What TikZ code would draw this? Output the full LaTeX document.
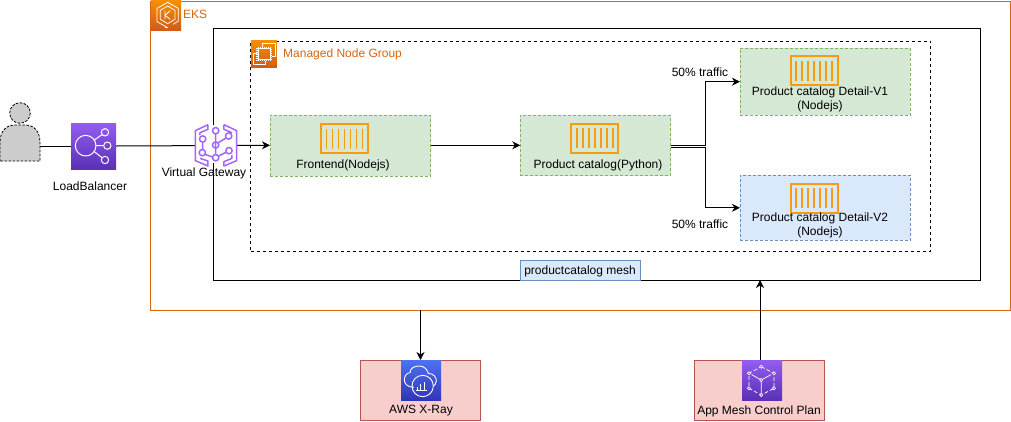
\documentclass[tikz,border=0pt]{standalone}
\usepackage{fontspec}
\setmainfont{Liberation Sans}
\usetikzlibrary{arrows.meta,calc}
\definecolor{awsorange}{HTML}{D86613}
\definecolor{contorange}{HTML}{F89B10}
\definecolor{vgpurple}{HTML}{A166FF}
\definecolor{gstroke}{HTML}{82B366}\definecolor{gfill}{HTML}{D5E8D4}
\definecolor{bstroke}{HTML}{6C8EBF}\definecolor{bfill}{HTML}{DAE8FC}
\definecolor{rstroke}{HTML}{B85450}\definecolor{rfill}{HTML}{F8CECC}
\definecolor{orange1}{HTML}{F78E04}\definecolor{orange2}{HTML}{D05C17}
\definecolor{purple1}{HTML}{945DF2}\definecolor{purple2}{HTML}{5A30B5}
\definecolor{blue1}{HTML}{4D72F3}\definecolor{blue2}{HTML}{3334B9}
\tikzset{
  x=1pt,y=-1pt,
  txt/.style={inner sep=0pt,align=center,font=\fontsize{12}{14.2}\selectfont,text=black},
  otxt/.style={inner sep=0pt,anchor=west,font=\fontsize{12}{14.2}\selectfont,text=awsorange},
  boxbase/.style={rectangle,inner sep=0pt,outer sep=0pt,line width=.75pt},
  greenbox/.style={boxbase,draw=gstroke,fill=gfill,dash pattern=on 3pt off 2pt},
  bluebox/.style={boxbase,draw=bstroke,fill=bfill,dash pattern=on 3pt off 2pt},
  redbox/.style={boxbase,draw=rstroke,fill=rfill,line width=1pt},
  iconbox/.style={rectangle,inner sep=0pt,outer sep=0pt},
  orangeicon/.style={iconbox,top color=orange1,bottom color=orange2},
  purpleicon/.style={iconbox,top color=purple1,bottom color=purple2},
  blueicon/.style={iconbox,top color=blue1,bottom color=blue2},
  conn/.style={draw=black,line width=1pt,-{Stealth[length=8pt,width=8pt,inset=2.5pt]}},
  plain/.style={draw=black,line width=1pt},
  glyph/.style={draw=white,line width=.8pt,line join=round},
  vg/.style={draw=vgpurple,line width=1.5pt,line join=round},
  cont/.pic={
    \draw[contorange,line width=2.2pt] (-23.5,-14.5) rectangle (23.5,14.5);
    \foreach \i in {-18,-12,-6,0,6,12,18}
      \draw[contorange,line width=1.7pt] (\i,-10) -- (\i,10);
  },
}
\begin{document}
\begin{tikzpicture}
\useasboundingbox (0,0) rectangle (1011,421);
\fill[white] (0,0) rectangle (1011,421);
% containers
\node[boxbase,draw=awsorange,line width=1pt,minimum width=859.5pt,minimum height=309pt] (eks) at (580.25,155.5) {};
\node[boxbase,draw=black,line width=1pt,minimum width=766.5pt,minimum height=252pt] (mesh) at (596.75,154) {};
\node[boxbase,draw=black,line width=.8pt,dash pattern=on 3pt off 3pt,minimum width=680pt,minimum height=210pt] (mng) at (590.5,146.3) {};
% service boxes
\node[greenbox,minimum width=160.5pt,minimum height=61pt] (front) at (350.3,145.5) {};
\node[greenbox,minimum width=150.2pt,minimum height=60.5pt] (prod) at (595.4,145.3) {};
\node[greenbox,minimum width=170.5pt,minimum height=67.3pt] (v1) at (825.2,81.7) {};
\node[bluebox,minimum width=170.5pt,minimum height=65pt] (v2) at (825.2,207.8) {};
\node[boxbase,draw=bstroke,fill=bfill,line width=.8pt,minimum width=120.5pt,minimum height=20pt] (meshlabel) at (580.2,270) {};
\node[txt] (meshtxt) at (580,271) {productcatalog mesh};
\node[redbox,minimum width=120pt,minimum height=60pt] (xray) at (420.5,390) {};
\node[redbox,minimum width=130pt,minimum height=60pt] (appmesh) at (759.5,390) {};
% person
\node[iconbox,minimum width=40pt,minimum height=61pt] (user) at (20,130.5) {};
\draw[fill=black!20,draw=black,line width=.8pt,dash pattern=on 2.5pt off 1.5pt]
  (0,161) -- (0,143) .. controls (0,131) and (6,125.5) .. (14,125) -- (26,125) .. controls (34,125.5) and (40,131) .. (40,143) -- (40,161) -- cycle;
\draw[fill=black!20,draw=black,line width=.8pt,dash pattern=on 2.5pt off 1.5pt] (20,113) circle (10.3);
% coordinates for free line ends
\coordinate (userout) at (40,146);
\coordinate (frontin) at (270,145.3);
\coordinate (lbin) at (71,146);
\coordinate (lbout) at (116,146);
% connectors
\draw[plain] (userout) -- (lbin);
\draw[conn] (lbout) -- (frontin);
\draw[conn] (front.east) ++(0,-.2) -- (prod.west);
\draw[conn] (prod.east) ++(0,.5) -- ++(35,0) |- (v1.west);
\draw[conn] (prod.east) ++(0,2.3) -- ++(35,0) |- (v2.west);
\draw[conn] (eks.south -| xray.north) -- (xray.north);
\coordinate (meshin) at (760,280);
\draw[conn] (appmesh.north -| meshin) -- (meshin);
% containers icons
\pic at (344.5,138.5) {cont};
\pic at (594.7,138.3) {cont};
\pic at (814.3,70.7) {cont};
\pic at (814.3,198.3) {cont};
% EKS icon
\node[orangeicon,minimum width=30pt,minimum height=29.5pt] (eksicon) at (166,15.5) {};
\begin{scope}[shift={(145,0)},x=.3333pt,y=-.3333pt]
  \draw[glyph] (68,7) -- (100,25) -- (100,63) -- (84,73);
  \draw[glyph] (60,82) -- (68,83) -- (36,65) -- (36,25) -- (68,7);
  \draw[glyph] (68,18) -- (90,31) -- (90,58) -- (68,71) -- (46,58) -- (46,31) -- cycle;
  \draw[glyph] (60,32) -- (60,58) (76,32) -- (60,46) -- (76,58);
\end{scope}
\node[otxt] (ekstxt) at (183,14) {EKS};
% managed node group icon
\node[orangeicon,minimum width=26pt,minimum height=27pt] (mngicon) at (263.8,53.7) {};
\begin{scope}[shift={(145,0)},x=.3333pt,y=-.3333pt]
  \draw[glyph,line width=.5pt] (352,140) -- (352,130) -- (392,130) -- (392,170) -- (382,170);
  \draw[glyph,line width=.5pt] (336,160) -- (326,160) -- (326,192) -- (360,192) -- (360,182);
  \draw[draw=white,line width=.5pt] (339,146) rectangle (376,178);
  \draw[draw=white,line width=1.6pt,dash pattern=on .8pt off 1.2pt] (336,143) rectangle (379,181);
\end{scope}
\node[otxt] (mngtxt) at (283,54) {Managed Node Group};
% load balancer icon
\node[purpleicon,minimum width=45pt,minimum height=46pt] (lb) at (93.5,146) {};
\begin{scope}[x=.3333pt,y=-.3333pt]
  \draw[glyph,line width=1pt] (257,437) circle (31);
  \draw[glyph,line width=1pt] (315,397) circle (11) (322,437) circle (11) (315,480) circle (11);
  \draw[glyph,line width=1pt] (283,420) -- (306,404) (288,437) -- (311,437) (283,455) -- (306,473);
\end{scope}
% virtual gateway icon
\node[iconbox,minimum width=41pt,minimum height=41pt] (vgicon) at (216,145.5) {};
\begin{scope}[shift={(150,110)},x=.3333pt,y=-.3333pt]
  \fill[white] (135,45) rectangle (260,160);
  \draw[vg] (174,44) -- (136,62) -- (136,152) -- (174,168) -- (174,153) -- (150,145) (174,44) -- (174,58) -- (150,68) -- (150,75);
  \draw[vg] (222,44) -- (260,62) -- (260,152) -- (222,168) -- (222,155) -- (246,145) -- (246,135) (222,44) -- (222,58) -- (246,68);
  \draw[vg] (197,72) -- (197,133) (158,97) -- (158,118) (165,133) -- (187,141) (206,138) -- (228,127) (205,98) -- (228,84);
  \draw[vg] (158,87) circle (9.5) (197,62) circle (9.5) (236,78) circle (9.5) (197,105) circle (9.5) (157,128) circle (9.5) (197,143) circle (9.5) (237,122) circle (9.5);
\end{scope}
% x-ray icon
\node[blueicon,minimum width=40pt,minimum height=40pt] (xrayicon) at (421,380) {};
\begin{scope}[shift={(350,300)},x=.3333pt,y=-.3333pt]
  \draw[glyph,line width=.9pt] (192,262) .. controls (172,262) and (162,250) .. (163,238) .. controls (164,226) and (172,218) .. (180,218) .. controls (180,205) and (192,198) .. (208,198) .. controls (222,198) and (232,208) .. (235,220) .. controls (250,220) and (260,232) .. (259,243) .. controls (258,251) and (254,256) .. (250,258);
  \draw[glyph,line width=.9pt] (218,258) circle (32);
  \draw[glyph,line width=.9pt] (201,270) -- (201,262) (212,270) -- (212,252) (223,270) -- (223,245) (197,272) -- (232,272);
\end{scope}
% app mesh icon
\node[purpleicon,minimum width=40pt,minimum height=40pt] (appicon) at (762,380) {};
\begin{scope}[shift={(350,300)},x=.3333pt,y=-.3333pt]
  \draw[glyph,line width=.7pt,dash pattern=on 4pt off 2pt] (1234,200) -- (1272,220) -- (1272,265) -- (1234,285) -- (1197,265) -- (1197,220) -- cycle;
  \draw[glyph,line width=.7pt] (1234,240) -- (1234,280) (1234,240) -- (1205,224) (1234,240) -- (1263,224);
  \foreach \px/\py in {1234/200,1272/220,1272/265,1234/285,1197/265,1197/220,1234/240}
    \draw[glyph,line width=.6pt,fill=purple1] (\px,\py) circle (5);
\end{scope}
% labels
\node[txt] (lbtxt) at (90,186) {LoadBalancer};
\node[txt] (vgtxt) at (204,173.5) {Virtual Gateway};
\node[txt] (fronttxt) at (343,165) {Frontend(Nodejs)};
\node[txt] (prodtxt) at (598,165) {Product catalog(Python)};
\node[txt] (v1txt) at (820,99) {Product catalog Detail-V1\\(Nodejs)};
\node[txt] (v2txt) at (820,225.5) {Product catalog Detail-V2\\(Nodejs)};
\node[txt] (t1) at (700,72) {50\% traffic};
\node[txt] (t2) at (700,224) {50\% traffic};
\node[txt] (xtxt) at (421,411) {AWS X-Ray};
\node[txt] (atxt) at (759,411) {App Mesh Control Plan};
\end{tikzpicture}
\end{document}
